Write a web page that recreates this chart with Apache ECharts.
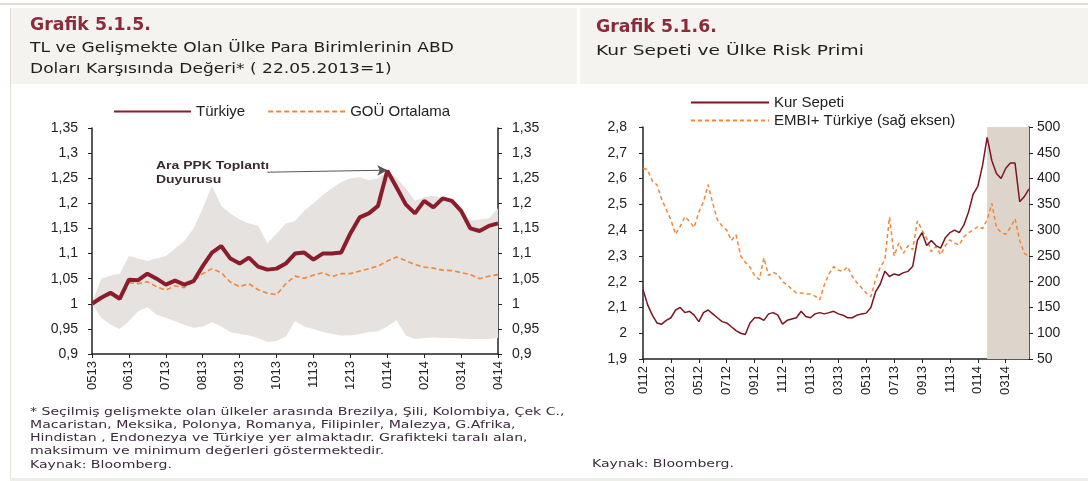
<!DOCTYPE html>
<html>
<head>
<meta charset="utf-8">
<script src="https://cdn.jsdelivr.net/npm/echarts@6/dist/echarts.min.js"></script>
<style>
html, body { margin: 0; padding: 0; background: #fff; }
#main { width: 1088px; height: 481px; }
</style>
</head>
<body>
<div id="main"></div>
<script>
// Grafik 5.1.5 - haftalik gozlemler, 22.05.2013 = 1
var leftMonths = ['0513', '0613', '0713', '0813', '0913', '1013', '1113', '1213', '0114', '0214', '0314', '0414'];
var turkiye = [1.000, 1.012, 1.022, 1.010, 1.048, 1.047, 1.060, 1.050, 1.038, 1.046,
  1.038, 1.045, 1.075, 1.102, 1.115, 1.090, 1.080, 1.092, 1.074, 1.068,
  1.070, 1.080, 1.100, 1.102, 1.088, 1.100, 1.100, 1.102, 1.140, 1.172,
  1.180, 1.195, 1.265, 1.232, 1.198, 1.180, 1.205, 1.192, 1.210, 1.205,
  1.185, 1.150, 1.145, 1.155, 1.160];
var gouOrtalama = [1.000, 1.010, 1.018, 1.012, 1.042, 1.040, 1.044, 1.034, 1.027, 1.036,
  1.032, 1.045, 1.060, 1.070, 1.062, 1.043, 1.034, 1.040, 1.028, 1.021,
  1.018, 1.040, 1.055, 1.051, 1.057, 1.062, 1.054, 1.060, 1.060, 1.065,
  1.070, 1.075, 1.085, 1.093, 1.086, 1.078, 1.073, 1.071, 1.067, 1.066,
  1.062, 1.058, 1.050, 1.055, 1.058];
var bandMax = [1.000, 1.050, 1.056, 1.060, 1.095, 1.090, 1.085, 1.090, 1.095, 1.110,
  1.125, 1.150, 1.190, 1.235, 1.195, 1.180, 1.168, 1.160, 1.156, 1.120,
  1.140, 1.160, 1.165, 1.185, 1.200, 1.216, 1.230, 1.242, 1.250, 1.252,
  1.246, 1.250, 1.265, 1.250, 1.230, 1.205, 1.212, 1.215, 1.210, 1.205,
  1.190, 1.166, 1.168, 1.170, 1.190];
var bandMin = [1.000, 0.972, 0.958, 0.950, 0.965, 0.985, 0.993, 0.978, 0.972, 0.965,
  0.958, 0.952, 0.955, 0.963, 0.955, 0.944, 0.940, 0.937, 0.932, 0.924,
  0.926, 0.935, 0.965, 0.955, 0.950, 0.944, 0.940, 0.937, 0.937, 0.940,
  0.944, 0.945, 0.955, 0.967, 0.937, 0.930, 0.932, 0.933, 0.932, 0.932,
  0.931, 0.930, 0.930, 0.930, 0.932];
var ppkFrom = 19, ppkWeek = 32;   // ok: aciklama -> ara PPK haftasi

// Grafik 5.1.6 - ayda 3 gozlem, 01.2012 - 04.2014
var rightMonths = ['0112', '0312', '0512', '0712', '0912', '1112', '0113', '0313', '0513', '0713', '0913', '1113', '0114', '0314'];
var kurSepeti = [2.17, 2.11, 2.07, 2.04, 2.035, 2.05, 2.06, 2.09, 2.10, 2.08,
  2.085, 2.07, 2.045, 2.08, 2.09, 2.075, 2.06, 2.045, 2.04, 2.025,
  2.01, 2.00, 1.995, 2.04, 2.06, 2.06, 2.05, 2.075, 2.08, 2.07,
  2.035, 2.05, 2.055, 2.06, 2.085, 2.065, 2.06, 2.075, 2.08, 2.075,
  2.08, 2.085, 2.075, 2.07, 2.06, 2.06, 2.07, 2.075, 2.078, 2.10,
  2.16, 2.19, 2.24, 2.22, 2.23, 2.225, 2.235, 2.24, 2.26, 2.36,
  2.39, 2.34, 2.36, 2.34, 2.33, 2.37, 2.39, 2.40, 2.39, 2.42,
  2.47, 2.54, 2.57, 2.65, 2.76, 2.67, 2.62, 2.60, 2.64, 2.66,
  2.66, 2.51, 2.53, 2.56];
var embiTurkiye = [420, 417, 395, 388, 360, 340, 320, 292, 307, 326,
  317, 305, 335, 355, 388, 352, 320, 308, 300, 280,
  291, 250, 238, 228, 212, 204, 246, 212, 218, 214,
  200, 194, 185, 178, 178, 176, 176, 172, 165, 194,
  215, 229, 222, 220, 229, 210, 198, 188, 178, 171,
  204, 228, 242, 325, 250, 275, 255, 270, 262, 318,
  300, 284, 258, 268, 252, 270, 281, 275, 271, 287,
  295, 300, 307, 303, 320, 352, 305, 295, 292, 305,
  322, 280, 255, 249];
var shadeStart = 74;  // ara PPK sonrasi donem

var leftCats = turkiye.map(function (v, i) { return String(i); });
var rightCats = kurSepeti.map(function (v, i) { return String(i); });
var bandRange = bandMax.map(function (v, i) { return +(v - bandMin[i]).toFixed(4); });

var ink = '#222';
var lblFont = 'Liberation Sans';
var comma = function (v) { return String(Math.round(v * 100) / 100).replace('.', ','); };

function xAx(grid, cats, step, labels) {
  return {
    gridIndex: grid, type: 'category', data: cats, boundaryGap: false,
    axisLine: { lineStyle: { color: ink, width: 1.5 } },
    axisTick: { length: 4, interval: function (i) { return i % step === 0; }, lineStyle: { color: ink } },
    axisLabel: {
      interval: function (i) { return i % step === 0; }, rotate: 90, margin: 7,
      fontSize: 13, fontFamily: lblFont, color: ink,
      formatter: function (v, i) { return labels[i / step] || ''; }
    },
    splitLine: { show: false }
  };
}
function yAx(grid, min, max, step, pos, margin, fmt) {
  return {
    gridIndex: grid, type: 'value', min: min, max: max, interval: step, position: pos,
    axisLine: { show: true, lineStyle: { color: ink, width: 1.5 } },
    axisTick: { show: true, length: 4, lineStyle: { color: ink } },
    axisLabel: { margin: margin, fontSize: 14, fontFamily: lblFont, color: ink, formatter: fmt },
    splitLine: { show: false }
  };
}
// metinler kaynakta yatayda genis; scaleX ile esliyoruz
function txt(x, y, s, font, fill, sx, lh) {
  return { type: 'text', x: x, y: y, scaleX: sx || 1,
    style: { text: s, font: font, fill: fill, align: 'left', verticalAlign: 'top', lineHeight: lh } };
}

var chart = echarts.init(document.getElementById('main'));
chart.setOption({
  animation: false,
  graphic: [
    { type: 'rect', z: -10, shape: { x: 0, y: 3, width: 1088, height: 2 }, style: { fill: '#e2ddd2' } },
    { type: 'rect', z: -10, shape: { x: 10, y: 8, width: 567, height: 76 }, style: { fill: '#f4f3ef' } },
    { type: 'rect', z: -10, shape: { x: 580, y: 8, width: 508, height: 76 }, style: { fill: '#f4f3ef' } },
    { type: 'rect', z: -10, shape: { x: 10, y: 8, width: 1, height: 470 }, style: { fill: '#e4e0d8' } },
    { type: 'rect', z: -10, shape: { x: 10, y: 478, width: 1078, height: 3 }, style: { fill: '#efede8' } },
    txt(30, 17, 'Grafik 5.1.5.', 'bold 17px DejaVu Sans', '#8b2a3a', 1.02),
    txt(30, 41, 'TL ve Gelişmekte Olan Ülke Para Birimlerinin ABD', '14px DejaVu Sans', '#1e1e1e', 1.22),
    txt(30, 62, 'Doları Karşısında Değeri* ( 22.05.2013=1)', '14px DejaVu Sans', '#1e1e1e', 1.22),
    txt(596, 19, 'Grafik 5.1.6.', 'bold 17px DejaVu Sans', '#8b2a3a', 1.02),
    txt(596, 44, 'Kur Sepeti ve Ülke Risk Primi', '14px DejaVu Sans', '#1e1e1e', 1.33),
    txt(156, 159, 'Ara PPK Toplantı\nDuyurusu', 'bold 11px Liberation Sans', '#3a2a30', 1.27, 14),
    txt(30, 405, '* Seçilmiş gelişmekte olan ülkeler arasında Brezilya, Şili, Kolombiya, Çek C.,\n' +
      'Macaristan, Meksika, Polonya, Romanya, Filipinler, Malezya, G.Afrika,\n' +
      'Hindistan , Endonezya ve Türkiye yer almaktadır. Grafikteki taralı alan,\n' +
      'maksimum ve minimum değerleri göstermektedir.\n' +
      'Kaynak: Bloomberg.', '11px DejaVu Sans', '#3b2b3d', 1.28, 13.3),
    txt(592, 459, 'Kaynak: Bloomberg.', '11px DejaVu Sans', '#3b2b3d', 1.28)
  ],
  legend: [
    { data: ['Türkiye', 'GOÜ Ortalama'], left: 108, top: 99, itemWidth: 77, itemHeight: 12, itemGap: 22,
      itemStyle: { opacity: 0 }, textStyle: { fontSize: 15, fontFamily: lblFont, color: ink } },
    { data: ['Kur Sepeti', 'EMBI+ Türkiye (sağ eksen)'], orient: 'vertical', left: 685, top: 90,
      itemWidth: 78, itemHeight: 12, itemGap: 3, itemStyle: { opacity: 0 },
      textStyle: { fontSize: 15, fontFamily: lblFont, color: ink } }
  ],
  grid: [
    { left: 92, top: 128, width: 406, height: 226 },
    { left: 643, top: 127, width: 386, height: 232 }
  ],
  xAxis: [xAx(0, leftCats, 4, leftMonths), xAx(1, rightCats, 6, rightMonths)],
  yAxis: [
    yAx(0, 0.9, 1.35, 0.05, 'left', 14, comma),
    yAx(0, 0.9, 1.35, 0.05, 'right', 14, comma),
    yAx(1, 1.9, 2.8, 0.1, 'left', 16, comma),
    yAx(1, 50, 500, 50, 'right', 8, null)
  ],
  series: [
    { name: 'min', type: 'line', xAxisIndex: 0, yAxisIndex: 0, data: bandMin, stack: 'band', symbol: 'none',
      silent: true, lineStyle: { opacity: 0 }, z: 1 },
    { name: 'aralik', type: 'line', xAxisIndex: 0, yAxisIndex: 0, data: bandRange, stack: 'band', symbol: 'none',
      silent: true, lineStyle: { opacity: 0 }, areaStyle: { color: '#e6e2df', opacity: 1 }, z: 1 },
    { name: 'GOÜ Ortalama', type: 'line', xAxisIndex: 0, yAxisIndex: 0, data: gouOrtalama, symbol: 'none',
      color: '#f0873a', lineStyle: { color: '#f0873a', width: 1.6, type: [5, 3] }, z: 3 },
    { name: 'Türkiye', type: 'line', xAxisIndex: 0, yAxisIndex: 0, data: turkiye, symbol: 'none',
      color: '#8b1c2c', lineStyle: { color: '#8b1c2c', width: 4 }, z: 4,
      markLine: { silent: true, symbol: ['none', 'arrow'], symbolSize: [8, 10], label: { show: false },
        lineStyle: { color: '#555', width: 1, type: 'solid' },
        data: [[{ coord: [ppkFrom, 1.262] }, { coord: [ppkWeek, 1.266] }]] } },
    { name: 'EMBI+ Türkiye (sağ eksen)', type: 'line', xAxisIndex: 1, yAxisIndex: 3, data: embiTurkiye, symbol: 'none',
      color: '#f0873a', lineStyle: { color: '#f0873a', width: 1.5, type: [4, 3] }, z: 3,
      markArea: { silent: true, itemStyle: { color: '#ddd5cb', opacity: 1 },
        data: [[{ xAxis: shadeStart }, { xAxis: rightCats.length - 1 }]] } },
    { name: 'Kur Sepeti', type: 'line', xAxisIndex: 1, yAxisIndex: 2, data: kurSepeti, symbol: 'none',
      color: '#7e1420', lineStyle: { color: '#7e1420', width: 1.5 }, z: 4 }
  ]
});
</script>
</body>
</html>
